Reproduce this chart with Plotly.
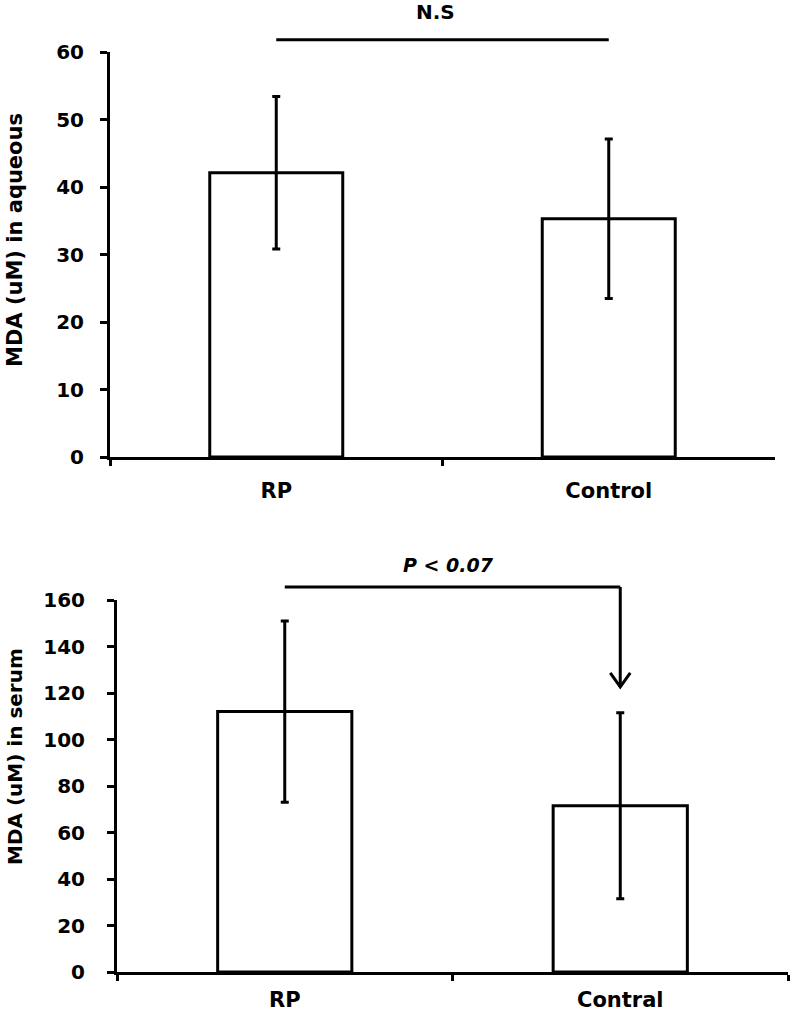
import plotly.graph_objects as go

# ---- data ----
categories_top = ["RP", "Control"]
aqueous_mean = [42.1, 35.3]
aqueous_err = [11.3, 11.8]
aqueous_ticks = [0, 10, 20, 30, 40, 50, 60]

categories_bottom = ["RP", "Contral"]
serum_mean = [112.0, 71.5]
serum_err = [39.0, 40.0]
serum_ticks = [0, 20, 40, 60, 80, 100, 120, 140, 160]

ns_label = "N.S"
p_label = "P < 0.07"
arrow_tip_value = 122.6  # serum units, where the arrow points

FONT = "DejaVu Sans"
BLACK = "#000000"

fig = go.Figure()

fig.add_trace(go.Bar(
    x=categories_top, y=aqueous_mean, width=0.4,
    marker=dict(color="white", line=dict(color=BLACK, width=3)),
    error_y=dict(type="data", array=aqueous_err, visible=True, color=BLACK, thickness=3, width=4),
    xaxis="x", yaxis="y", showlegend=False,
))
fig.add_trace(go.Bar(
    x=categories_bottom, y=serum_mean, width=0.4,
    marker=dict(color="white", line=dict(color=BLACK, width=3)),
    error_y=dict(type="data", array=serum_err, visible=True, color=BLACK, thickness=3, width=4),
    xaxis="x2", yaxis="y2", showlegend=False,
))

W, H = 792, 1016
tick_font = dict(family=FONT, size=20, color=BLACK, weight="bold")

common_x = dict(showline=True, linewidth=3, linecolor=BLACK, ticks="outside", tickson="boundaries",
                ticklen=6, tickwidth=3, tickcolor=BLACK, showgrid=False, zeroline=False,
                tickfont=dict(family=FONT, size=21, color=BLACK, weight="bold"),
                fixedrange=True, automargin=False)
common_y = dict(showline=True, linewidth=3, linecolor=BLACK, ticks="outside", ticklen=7, tickwidth=3,
                tickcolor=BLACK, showgrid=False, zeroline=False, tickfont=tick_font, fixedrange=True,
                automargin=False)

fig.update_layout(
    template="none",
    width=W, height=H, autosize=False,
    margin=dict(l=0, r=0, t=0, b=0),
    paper_bgcolor="white", plot_bgcolor="white",
    xaxis=dict(domain=[110 / W, 775 / W], anchor="y", ticklabelstandoff=13, **common_x),
    yaxis=dict(domain=[1 - 457 / H, 1 - 52 / H], anchor="x", range=[0, 60], tickvals=aqueous_ticks,
               ticklabelstandoff=12, **common_y),
    xaxis2=dict(domain=[117 / W, 788 / W], anchor="y2", ticklabelstandoff=7, **common_x),
    yaxis2=dict(domain=[1 - 972 / H, 1 - 600 / H], anchor="x2", range=[0, 160], tickvals=serum_ticks,
                ticklabelstandoff=18, **common_y),
)

line = dict(color=BLACK, width=3)
# N.S bracket (top)
fig.add_shape(type="line", xref="x", yref="y domain", x0=0, x1=1, y0=1.03, y1=1.03, line=line)
# P bracket (bottom)
fig.add_shape(type="line", xref="x2", yref="y2 domain", x0=0, x1=1, y0=1.035, y1=1.035, line=line)
fig.add_shape(type="line", xref="x2", yref="y2 domain", x0=1, x1=1, y0=1.035,
              y1=arrow_tip_value / serum_ticks[-1], line=line)
fig.add_shape(type="path", xref="x2", yref="y2", xsizemode="pixel", ysizemode="pixel",
              xanchor=1, yanchor=arrow_tip_value, path="M-10,14 L0,0 L10,14", line=line)

fig.add_annotation(text=ns_label, xref="x", yref="y domain", x=0.5, y=1.098, xshift=-7,
                   xanchor="center", yanchor="middle",
                   showarrow=False, font=dict(family=FONT, size=20, color=BLACK, weight="bold"))
fig.add_annotation(text=p_label, xref="x2", yref="y2 domain", x=0.5, y=1.094, xshift=-4,
                   xanchor="center", yanchor="middle",
                   showarrow=False, font=dict(family=FONT, size=19, color=BLACK, weight="bold", style="italic"))

# y-axis titles
fig.add_annotation(text="MDA (uM) in aqueous", xref="paper", yref="paper", x=15 / W, y=1 - 240 / H,
                   textangle=-90, showarrow=False, xanchor="center", yanchor="middle",
                   font=dict(family=FONT, size=21, color=BLACK, weight="bold"))
fig.add_annotation(text="MDA (uM) in serum", xref="paper", yref="paper", x=15 / W, y=1 - 757 / H,
                   textangle=-90, showarrow=False, xanchor="center", yanchor="middle",
                   font=dict(family=FONT, size=20, color=BLACK, weight="bold"))

fig.write_html("out.html", config={"displayModeBar": False},
               post_script="document.body.style.margin='0';document.body.style.overflow='hidden';")
